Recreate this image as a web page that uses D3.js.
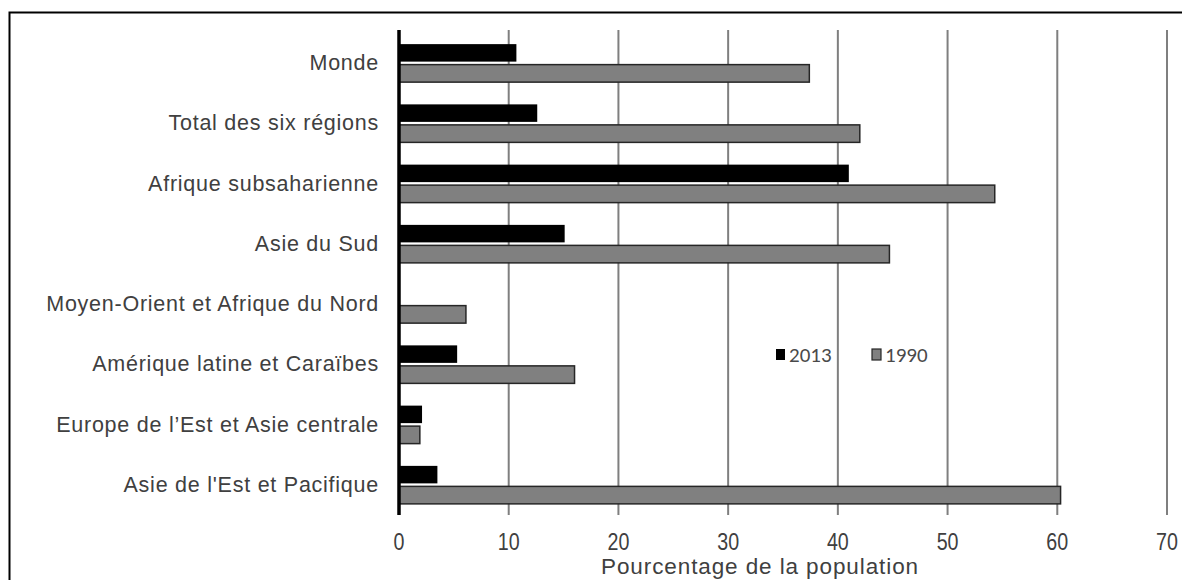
<!DOCTYPE html>
<html>
<head>
<meta charset="utf-8">
<script src="https://cdn.jsdelivr.net/npm/d3@7"></script>
<style>
  body { margin: 0; background: #fff; }
  svg { display: block; }
</style>
</head>
<body>
<svg id="chart" width="1182" height="580"></svg>
<script>
// Regions, top to bottom
const regions = [
  "Monde",
  "Total des six régions",
  "Afrique subsaharienne",
  "Asie du Sud",
  "Moyen-Orient et Afrique du Nord",
  "Amérique latine et Caraïbes",
  "Europe  de l\u2019Est et Asie centrale",
  "Asie de l'Est et Pacifique"
];
// Share of the population (%) per year
const values2013 = [10.7, 12.6, 41.0, 15.1, null, 5.3, 2.1, 3.5];
const values1990 = [37.4, 42.0, 54.3, 44.7, 6.1, 16.0, 1.9, 60.3];
const seriesNames = ["2013", "1990"];
const xTicks = [0, 10, 20, 30, 40, 50, 60, 70];
const xTitle = "Pourcentage de la population";

const svg = d3.select("#chart");

// outer frame
svg.append("rect")
  .attr("x", 9.5).attr("y", 12.5)
  .attr("width", 1200).attr("height", 600)
  .attr("fill", "none").attr("stroke", "#000").attr("stroke-width", 2);

const plot = { left: 399, right: 1167, top: 33, bottom: 515 };

const x = d3.scaleLinear().domain([0, 70]).range([plot.left, plot.right]);
const y = d3.scaleBand().domain(regions).range([plot.top, plot.bottom]);

// vertical gridlines with ticks below the plot
const gridTop = 30;
svg.append("g")
  .selectAll("line")
  .data(xTicks.filter(d => d > 0))
  .join("line")
  .attr("x1", d => x(d)).attr("x2", d => x(d))
  .attr("y1", gridTop).attr("y2", plot.bottom)
  .attr("stroke", "#7f7f7f").attr("stroke-width", 2);

// bars
const barH = 17.5;
const rows = regions.map((r, i) => ({ r, v13: values2013[i], v90: values1990[i] }));
const mid = r => y(r) + y.bandwidth() / 2;

svg.append("g").selectAll("rect")
  .data(rows.filter(d => d.v13 != null))
  .join("rect")
  .attr("x", x(0))
  .attr("y", d => mid(d.r) - barH - 1.5)
  .attr("width", d => x(d.v13) - x(0))
  .attr("height", barH)
  .attr("fill", "#000");

svg.append("g").selectAll("rect")
  .data(rows)
  .join("rect")
  .attr("x", x(0))
  .attr("y", d => mid(d.r) + 1.5)
  .attr("width", d => x(d.v90) - x(0))
  .attr("height", barH)
  .attr("fill", "#808080")
  .attr("stroke", "#262626").attr("stroke-width", 1.5);

// category axis line
svg.append("line")
  .attr("x1", x(0)).attr("x2", x(0))
  .attr("y1", gridTop).attr("y2", plot.bottom)
  .attr("stroke", "#000").attr("stroke-width", 3.5);

// category labels
svg.append("g").selectAll("text")
  .data(regions)
  .join("text")
  .attr("x", 379)
  .attr("y", d => mid(d) + 7)
  .attr("text-anchor", "end")
  .attr("font-family", "Liberation Sans, Arial, sans-serif")
  .attr("font-size", 21.5)
  .attr("letter-spacing", 0.75)
  .attr("fill", "#404040")
  .text(d => d);

// x tick labels (condensed digits)
svg.append("g").selectAll("text")
  .data(xTicks)
  .join("text")
  .attr("transform", d => `translate(${x(d)},550) scale(0.82,1)`)
  .attr("text-anchor", "middle")
  .attr("font-family", "Liberation Sans, Arial, sans-serif")
  .attr("font-size", 24)
  .attr("fill", "#404040")
  .text(d => d);

svg.append("text")
  .attr("x", 760).attr("y", 574)
  .attr("text-anchor", "middle")
  .attr("font-family", "Liberation Sans, Arial, sans-serif")
  .attr("font-size", 22.5)
  .attr("letter-spacing", 0.9)
  .attr("fill", "#404040")
  .text(xTitle);

// legend
const legend = svg.append("g").attr("font-family", "Carlito, Calibri, Lato, sans-serif");
const legendItems = [
  { name: seriesNames[0], x: 776, fill: "#000", stroke: "none" },
  { name: seriesNames[1], x: 872, fill: "#808080", stroke: "#262626" }
];
legendItems.forEach(d => {
  legend.append("rect")
    .attr("x", d.x).attr("y", 349)
    .attr("width", 9).attr("height", 11)
    .attr("fill", d.fill).attr("stroke", d.stroke).attr("stroke-width", 1.2);
  legend.append("text")
    .attr("x", d.x + 13).attr("y", 362)
    .attr("font-size", 21)
    .attr("fill", "#4a4a4a")
    .text(d.name);
});
</script>
</body>
</html>
